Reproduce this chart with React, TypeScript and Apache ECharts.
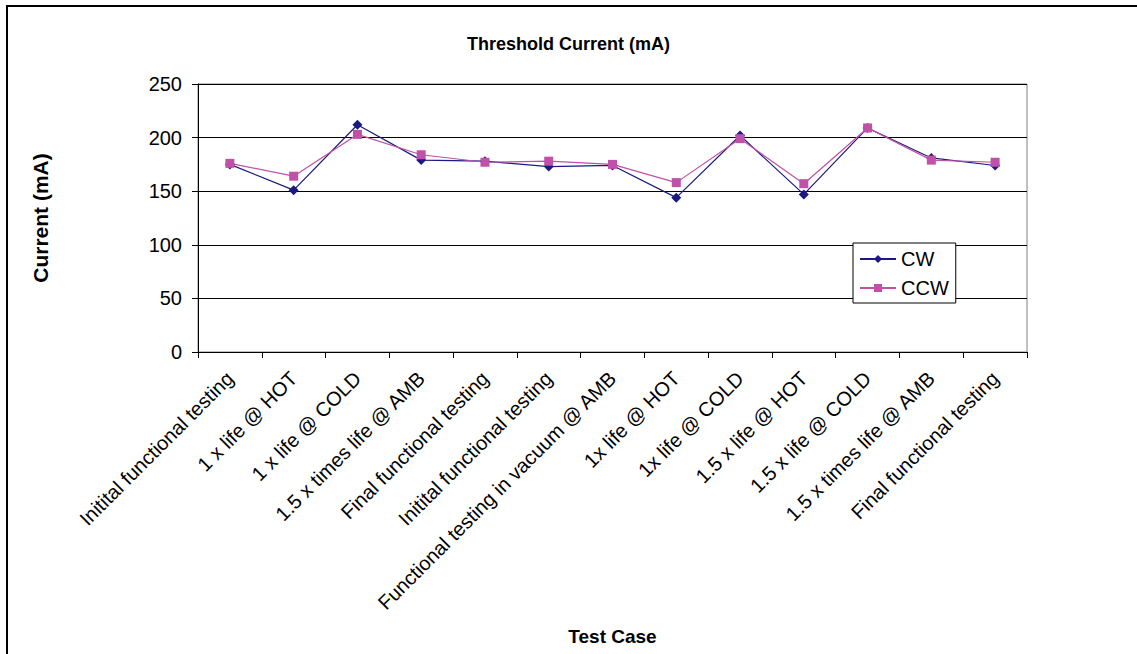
import React, { useEffect, useRef } from "react";
import * as echarts from "echarts";

const categories = [
  "Initital functional testing",
  "1 x life @ HOT",
  "1 x life @ COLD",
  "1.5 x times life @ AMB",
  "Final functional testing",
  "Initital functional testing",
  "Functional testing in vacuum @ AMB",
  "1x life @ HOT",
  "1x life @ COLD",
  "1.5 x life @ HOT",
  "1.5 x life @ COLD",
  "1.5 x times life @ AMB",
  "Final functional testing",
];
const cwValues = [175, 151, 212, 179, 178, 173, 174, 144, 202, 147, 209, 181, 174];
const ccwValues = [176, 164, 203, 184, 177, 178, 175, 158, 199, 157, 209, 179, 177];
const yTicks = [0, 50, 100, 150, 200, 250];

const FONT = "Liberation Sans, Arial, sans-serif";

export default function App() {
  const ref = useRef<HTMLDivElement>(null);
  useEffect(() => {
    if (!ref.current) return;
    const chart = echarts.init(ref.current, null, { renderer: "svg" });
    chart.setOption({
      animation: false,
      backgroundColor: "#ffffff",
      textStyle: { fontFamily: FONT },
      title: {
        text: "Threshold Current (mA)",
        left: "center",
        top: 30,
        textStyle: { fontFamily: FONT, fontWeight: "bold", fontSize: 18, color: "#000" },
      },
      graphic: [
        {
          type: "rect",
          shape: { x: 7, y: 6, width: 1300, height: 800 },
          style: { fill: "none", stroke: "#000", lineWidth: 2 },
          silent: true,
        },
      ],
      legend: {
        orient: "vertical",
        left: 853,
        top: 243,
        padding: [6, 7, 5, 6],
        itemGap: 9,
        itemWidth: 36,
        itemHeight: 10,
        borderColor: "#000",
        borderWidth: 1,
        borderRadius: 0,
        backgroundColor: "#fff",
        textStyle: { fontFamily: FONT, fontSize: 20, color: "#000" },
        data: ["CW", "CCW"],
      },
      grid: {
        left: 198,
        right: 110,
        top: 84,
        height: 268,
        show: true,
        borderColor: "#808080",
        borderWidth: 1,
        containLabel: false,
      },
      xAxis: {
        type: "category",
        data: categories,
        boundaryGap: true,
        name: "Test Case",
        nameLocation: "middle",
        nameGap: 275,
        nameTextStyle: { fontFamily: FONT, fontWeight: "bold", fontSize: 19, color: "#000" },
        axisLine: { lineStyle: { color: "#000", width: 1 } },
        axisTick: { show: true, alignWithLabel: false, length: 6, lineStyle: { color: "#000" } },
        axisLabel: {
          rotate: 45,
          interval: 0,
          margin: 23,
          fontFamily: FONT,
          fontSize: 20,
          color: "#000",
        },
        splitLine: { show: false },
      },
      yAxis: {
        type: "value",
        min: yTicks[0],
        max: yTicks[yTicks.length - 1],
        interval: 50,
        name: "Current (mA)",
        nameLocation: "middle",
        nameGap: 147,
        nameRotate: 90,
        nameTextStyle: { fontFamily: FONT, fontWeight: "bold", fontSize: 21, color: "#000" },
        axisLine: { show: true, lineStyle: { color: "#000", width: 1 } },
        axisTick: { show: true, length: 6, lineStyle: { color: "#000" } },
        axisLabel: { fontFamily: FONT, fontSize: 20, color: "#000", margin: 16 },
        splitLine: { show: true, lineStyle: { color: "#000", width: 1 } },
      },
      series: [
        {
          name: "CW",
          type: "line",
          data: cwValues,
          symbol: "diamond",
          symbolSize: 10,
          color: "#1a1a80",
          lineStyle: { color: "#1a1a80", width: 1.2 },
          itemStyle: { color: "#1a1a80" },
        },
        {
          name: "CCW",
          type: "line",
          data: ccwValues,
          symbol: "rect",
          symbolSize: 9,
          color: "#c050a8",
          lineStyle: { color: "#c050a8", width: 1.2 },
          itemStyle: { color: "#c050a8" },
        },
      ],
    });
    return () => chart.dispose();
  }, []);
  return (
    <div
      ref={ref}
      style={{ position: "fixed", left: 0, top: 0, width: 1137, height: 654 }}
    />
  );
}
